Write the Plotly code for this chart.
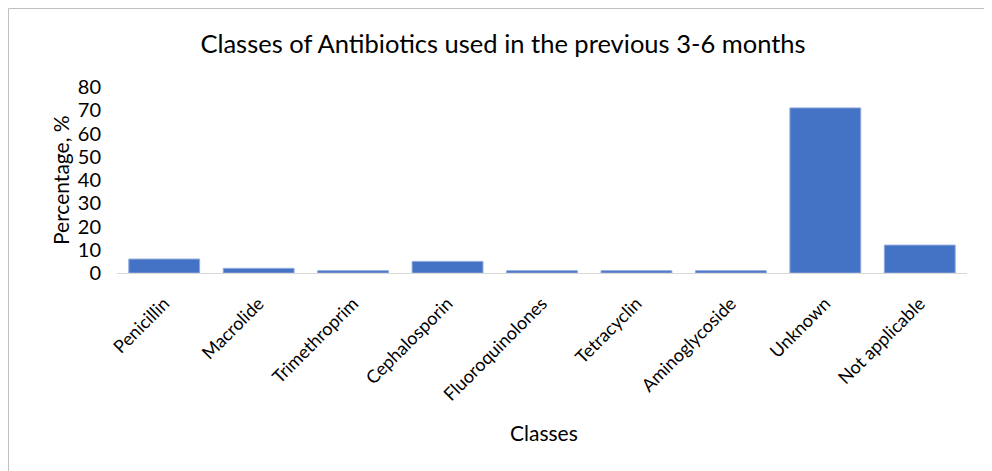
import plotly.graph_objects as go

categories = ["Penicillin", "Macrolide", "Trimethroprim", "Cephalosporin",
              "Fluoroquinolones", "Tetracyclin", "Aminoglycoside", "Unknown", "Not applicable"]
values = [6, 2, 1, 5, 1, 1, 1, 71, 12]
y_ticks = [0, 10, 20, 30, 40, 50, 60, 70, 80]

OFF = 8  # page body margin
W, H = 992 - OFF, 471 - OFF
L, R, T, B = 117 - OFF, 25, 87 - OFF, 198
pw, ph = W - L - R, H - T - B

fig = go.Figure(go.Bar(
    x=categories, y=values,
    marker=dict(color="#4472C4", line=dict(color="#8FAADC", width=1)),
    width=0.75,
))

font = "Lato, 'Open Sans', sans-serif"
fig.update_layout(
    width=W, height=H,
    margin=dict(l=L, r=R, t=T, b=B, autoexpand=False),
    paper_bgcolor="white", plot_bgcolor="white",
    font=dict(family=font, color="#000000"),
    showlegend=False,
    title=dict(text="Classes of Antibiotics used in the previous 3-6 months",
               x=(503 - OFF) / W, xanchor="center", y=1 - (44 - OFF) / H, yanchor="middle",
               font=dict(size=25.5, color="#000000")),
    xaxis=dict(tickangle=-45, tickfont=dict(size=18), showline=True,
               linecolor="#D9D9D9", linewidth=1, ticks="", showgrid=False,
               ticklabelstandoff=12, automargin=False),
    yaxis=dict(range=[0, 80], tickvals=y_ticks, tickfont=dict(size=20),
               showgrid=False, zeroline=False, showline=False, ticks="",
               ticklabelstandoff=15, automargin=False),
    annotations=[
        dict(text="Classes", xref="paper", yref="paper",
             x=(544 - 117) / pw, y=-(432 - 273) / ph,
             xanchor="center", yanchor="middle", showarrow=False,
             font=dict(size=21)),
        dict(text="Percentage, %", xref="paper", yref="paper",
             x=(60 - 117) / pw, y=(273 - 180) / ph, textangle=-90,
             xanchor="center", yanchor="middle", showarrow=False,
             font=dict(size=21)),
    ],
)
fig.add_shape(type="rect", xref="paper", yref="paper",
              x0=(0.5 - L) / pw, x1=(W + 5 - L) / pw,
              y0=-(B + 10) / ph, y1=(H - B - 0.5) / ph,
              line=dict(color="#BFBFBF", width=1), fillcolor="rgba(0,0,0,0)", layer="below")
fig.write_html("out.html")
